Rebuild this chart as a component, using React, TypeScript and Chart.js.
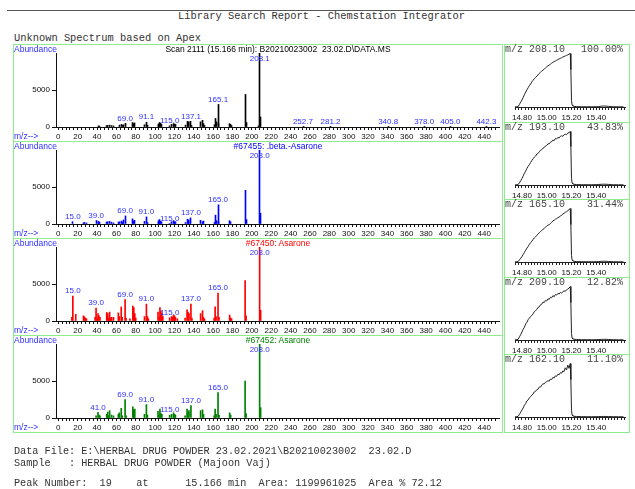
import React, { useEffect, useRef } from "react";
import { Chart, registerables } from "chart.js";
Chart.register(...registerables);

// ---------------- DATA ----------------
const mzTickLabels = [0, 20, 40, 60, 80, 100, 120, 140, 160, 180, 200, 220, 240, 260, 280, 300, 320, 340, 360, 380, 400, 420, 440];

// Unknown spectrum (scan 2111)
const unknownMz = [41, 43, 50, 51, 53, 55, 57, 63, 65, 66, 67, 69, 77, 78, 79, 89, 91, 92, 103, 104, 105, 106, 107, 115, 117, 119, 120, 121, 131, 133, 134, 135, 137, 138, 147, 149, 150, 151, 161, 162, 163, 165, 166, 177, 178, 179, 193, 194, 207, 208, 209, 253, 281, 341, 378, 405, 442];
const unknownAb = [150, 120, 180, 220, 250, 200, 150, 250, 350, 200, 300, 500, 600, 450, 550, 300, 640, 250, 400, 250, 600, 500, 350, 150, 350, 450, 400, 350, 250, 750, 550, 700, 770, 200, 700, 900, 450, 200, 300, 1150, 700, 3050, 450, 450, 350, 200, 4400, 600, 150, 9999, 1350, 40, 40, 40, 40, 40, 40];
const unknownPeakLabels = [69.0, 91.1, 115.0, 137.1, 165.1, 208.1, 252.7, 281.2, 340.8, 378.0, 405.0, 442.3];

// #67455 .beta.-Asarone
const betaMz = [15, 26, 27, 29, 39, 41, 42, 43, 50, 51, 53, 55, 57, 62, 63, 65, 66, 67, 69, 77, 78, 79, 89, 91, 92, 103, 104, 105, 106, 107, 115, 117, 119, 120, 121, 131, 133, 134, 135, 137, 147, 149, 150, 161, 162, 163, 165, 166, 177, 178, 193, 194, 208, 209];
const betaAb = [310, 150, 200, 150, 480, 350, 200, 250, 250, 300, 350, 250, 150, 250, 300, 400, 200, 550, 1090, 700, 400, 500, 350, 955, 200, 450, 200, 600, 350, 300, 70, 300, 450, 300, 300, 200, 650, 400, 550, 820, 500, 300, 400, 200, 1200, 450, 2590, 300, 450, 300, 4550, 600, 9999, 1450];
const betaPeakLabels = [15.0, 39.0, 69.0, 91.0, 115.0, 137.0, 165.0, 208.0];

// #67450 Asarone
const asaroneAMz = [14, 15, 18, 26, 27, 28, 29, 38, 39, 40, 41, 42, 43, 50, 51, 52, 53, 54, 55, 57, 62, 63, 65, 66, 69, 70, 74, 77, 78, 79, 80, 89, 91, 92, 93, 103, 104, 105, 106, 107, 108, 115, 117, 118, 119, 120, 121, 123, 131, 133, 134, 135, 137, 138, 147, 149, 150, 151, 161, 162, 163, 165, 166, 177, 178, 179, 193, 194, 208, 209];
const asaroneAAb = [500, 3370, 900, 700, 550, 400, 300, 500, 1730, 300, 1000, 700, 500, 1150, 1000, 400, 1200, 400, 500, 500, 1100, 600, 1900, 500, 2890, 400, 300, 2000, 1800, 1000, 400, 600, 2280, 600, 300, 1200, 500, 1800, 1300, 1000, 600, 440, 600, 500, 800, 700, 500, 300, 400, 1500, 1200, 1000, 2280, 400, 1000, 1400, 500, 300, 400, 1900, 600, 3780, 500, 800, 400, 300, 5450, 700, 9999, 1450];
const asaroneAPeakLabels = [15.0, 39.0, 69.0, 91.0, 115.0, 137.0, 165.0, 208.0];

// #67452 Asarone
const asaroneBMz = [39, 41, 42, 43, 50, 51, 52, 53, 55, 57, 62, 63, 65, 66, 69, 70, 77, 78, 79, 89, 91, 92, 103, 104, 105, 106, 107, 115, 117, 119, 120, 121, 131, 133, 134, 135, 137, 147, 149, 150, 161, 162, 163, 165, 166, 177, 178, 193, 194, 208, 209];
const asaroneBAb = [300, 750, 400, 300, 500, 800, 300, 1000, 400, 300, 500, 700, 1300, 300, 2500, 300, 1500, 1100, 1200, 500, 1810, 400, 900, 400, 1200, 600, 500, 380, 500, 700, 500, 400, 300, 1200, 800, 1000, 1680, 1000, 1100, 500, 300, 1200, 500, 3450, 400, 700, 400, 5000, 600, 9999, 1400];
const asaroneBPeakLabels = [41.0, 69.0, 91.0, 115.0, 137.0, 165.0, 208.0];

// Extracted ion chromatograms
const chromTickLabels = [14.8, 15.0, 15.2, 15.4];
const chromTimes = [14.74, 14.76, 14.77, 14.78, 14.79, 14.80, 14.81, 14.82, 14.83, 14.84, 14.85, 14.86, 14.87, 14.88, 14.89, 14.90, 14.91, 14.92, 14.93, 14.94, 14.95, 14.96, 14.97, 14.98, 14.99, 15.00, 15.01, 15.02, 15.03, 15.04, 15.05, 15.06, 15.07, 15.08, 15.09, 15.10, 15.11, 15.12, 15.13, 15.14, 15.15, 15.16, 15.17, 15.18, 15.19, 15.195, 15.20, 15.205, 15.21, 15.22, 15.24, 15.26, 15.28, 15.30, 15.32, 15.34, 15.36, 15.38, 15.40, 15.42, 15.44, 15.46, 15.48, 15.50, 15.52, 15.54, 15.56, 15.58, 15.60, 15.62];
const ion208 = [0.3, 0.3, 1, 5, 9, 13, 18, 23, 28, 32, 36, 40, 43, 47, 50, 53, 55, 58, 60, 63, 65, 67, 69, 71, 73, 75, 77, 78.5, 80, 82, 83.5, 85, 86, 87.5, 88.5, 90, 91, 92, 93.5, 94.5, 95.5, 96.5, 97.5, 99, 100, 70, 12, 4, 2, 1.2, 0.8, 0.6, 0.5, 0.5, 0.4, 0.5, 0.4, 0.5, 0.6, 0.8, 1.5, 1.8, 1.6, 1.2, 0.7, 0.5, 0.4, 0.4, 0.3, 0.3];
const ion193 = [0.3, 0.4, 1, 4, 8, 12, 17, 22, 26, 31, 35, 38, 42, 46, 49, 52, 54, 58, 59, 62, 65, 66, 69, 70, 73, 74, 77, 77, 80, 81, 84, 83, 87, 86, 89, 88, 91, 92, 91, 94, 95, 94, 97, 98, 100, 72, 12, 4, 2, 1.2, 0.9, 0.7, 0.6, 0.5, 0.6, 0.5, 0.5, 0.6, 0.7, 1.0, 1.3, 1.5, 1.4, 1.1, 0.7, 0.5, 0.5, 0.4, 0.4, 0.3];
const ion165 = [0.3, 0.3, 1, 4, 7, 10, 14, 18, 22, 26, 29, 33, 36, 39, 42, 45, 47, 50, 52, 55, 57, 59, 61, 63, 65, 67, 69, 70, 72, 74, 77, 78, 80, 81, 83, 84, 86, 87, 90, 91, 93, 94, 96, 98, 100, 70, 12, 4, 2, 1.2, 0.8, 0.7, 0.6, 0.5, 0.5, 0.5, 0.5, 0.5, 0.6, 0.8, 1.2, 1.4, 1.3, 1.0, 0.7, 0.5, 0.4, 0.4, 0.3, 0.3];
const ion209 = [0.4, 0.5, 1.5, 6, 10, 15, 20, 24, 30, 33, 38, 41, 44, 46, 49, 53, 55, 57, 61, 62, 66, 67, 71, 70, 74, 73, 77, 76, 80, 79, 83, 81, 85, 84, 87, 86, 89, 88, 90, 92, 91, 94, 95, 97, 100, 70, 12, 4, 2, 1.3, 1.0, 0.8, 0.6, 0.6, 0.5, 0.6, 0.5, 0.6, 0.7, 0.9, 1.1, 1.3, 1.2, 1.0, 0.7, 0.6, 0.5, 0.4, 0.4, 0.4];
const ion162 = [0.4, 0.5, 1.5, 5, 9, 13, 17, 22, 25, 30, 32, 36, 38, 41, 43, 47, 48, 51, 52, 56, 56, 60, 62, 62, 65, 66, 68, 67, 71, 70, 74, 73, 77, 76, 80, 79, 83, 82, 86, 85, 92, 88, 97, 91, 100, 70, 12, 4, 2, 1.3, 1.0, 0.8, 0.7, 0.6, 0.6, 0.6, 0.5, 0.6, 0.7, 0.8, 0.9, 1.0, 1.0, 0.9, 0.7, 0.6, 0.5, 0.5, 0.4, 0.4];
const chromIonNames = ["m/z 208.10", "m/z 193.10", "m/z 165.10", "m/z 209.10", "m/z 162.10"];
const chromPercents = ["100.00%", "43.83%", "31.44%", "12.82%", "11.10%"];
const chromSeries = [ion208, ion193, ion165, ion209, ion162];

// ---------------- STYLE ----------------
const SANS = '"Liberation Sans", Arial, Helvetica, sans-serif';
const MONO = '"Liberation Mono", "Courier New", monospace';
const BLUE = "#3030ff";
const GREEN_BORDER = "#8fec8f";
const TEXT_GRAY = "#333";

Chart.defaults.font.family = SANS;

function labelPlugin(labels: number[], mz: number[], ab: number[]) {
  return {
    id: "peakLabels",
    afterDatasetsDraw(chart: any) {
      const { ctx, chartArea } = chart;
      const x = chart.scales.x;
      const y = chart.scales.y;
      ctx.save();
      ctx.font = `8px ${SANS}`;
      ctx.fillStyle = BLUE;
      ctx.textAlign = "center";
      ctx.textBaseline = "middle";
      labels.forEach((l) => {
        let v = 0;
        mz.forEach((m, i) => {
          if (Math.round(m) === Math.round(l)) v = Math.max(v, ab[i]);
        });
        const px = x.getPixelForValue(l);
        let py = y.getPixelForValue(v) - 5;
        py = Math.max(py, chartArea.top + 5.5);
        py = Math.min(py, chartArea.bottom - 5);
        ctx.fillText(l.toFixed(1), px, py);
      });
      ctx.restore();
    },
  };
}

// snaps each 1px stick onto a whole pixel column so it draws crisp
const snapPlugin = {
  id: "snapSticks",
  beforeDatasetsDraw(chart: any) {
    chart.getDatasetMeta(0).data.forEach((el: any) => {
      el.x = Math.floor(el.x) + 0.5;
    });
  },
};

function SpectrumChart(props: { mz: number[]; ab: number[]; labels: number[]; color: string; top: number; crisp: boolean }) {
  const ref = useRef<HTMLCanvasElement>(null);
  useEffect(() => {
    const { mz, ab, labels, color, crisp } = props;
    const plugins: any[] = [labelPlugin(labels, mz, ab)];
    if (crisp) plugins.push(snapPlugin);
    const chart = new Chart(ref.current as HTMLCanvasElement, {
      type: "bar",
      data: {
        datasets: [
          {
            data: mz.map((m, i) => ({ x: m, y: ab[i] })),
            backgroundColor: color,
            borderWidth: 0,
            barThickness: 1,
            grouped: false,
          } as any,
        ],
      },
      options: {
        responsive: false,
        animation: false,
        events: [],
        layout: { padding: { top: 9, right: 3, left: 0, bottom: 0 } },
        plugins: { legend: { display: false }, tooltip: { enabled: false } },
        scales: {
          x: {
            type: "linear",
            min: -2.4,
            max: 455.3,
            offset: false,
            afterBuildTicks: (s: any) => {
              const t = [];
              for (let v = 0; v <= 452; v += 4) t.push({ value: v });
              s.ticks = t;
            },
            ticks: {
              autoSkip: false,
              maxRotation: 0,
              padding: 2,
              color: "#111",
              font: { size: 8 },
              callback: (v: any) => (mzTickLabels.includes(Number(v)) ? String(v) : ""),
            },
            grid: { drawOnChartArea: false, tickLength: 3, color: "#111", offset: false },
            border: { display: true, color: "#111" },
            afterFit: (s: any) => {
              s.height = 14;
            },
          } as any,
          y: {
            min: 0,
            max: 10000,
            afterBuildTicks: (s: any) => {
              s.ticks = [{ value: 0 }, { value: 5000 }];
            },
            ticks: { padding: 2, color: "#111", font: { size: 8 }, callback: (v: any) => String(v) },
            grid: { drawOnChartArea: false, tickLength: 4, color: "#111" },
            border: { display: true, color: "#111" },
            afterFit: (s: any) => {
              s.width = 43;
            },
          } as any,
        },
      },
      plugins,
    });
    return () => chart.destroy();
  }, []);
  return (
    <canvas
      ref={ref}
      width={489}
      height={97}
      style={{ position: "absolute", left: 13, top: props.top, display: "block" }}
    />
  );
}

function ChromChart(props: { values: number[]; top: number }) {
  const ref = useRef<HTMLCanvasElement>(null);
  useEffect(() => {
    const chart = new Chart(ref.current as HTMLCanvasElement, {
      type: "line",
      data: {
        datasets: [
          {
            data: chromTimes.map((t, i) => ({ x: t, y: props.values[i] })),
            borderColor: "#222",
            borderWidth: 1,
            pointRadius: 0,
            tension: 0,
          },
        ],
      },
      options: {
        responsive: false,
        animation: false,
        events: [],
        layout: { padding: { top: 9, left: 11, right: 4, bottom: 0 } },
        plugins: { legend: { display: false }, tooltip: { enabled: false } },
        scales: {
          x: {
            type: "linear",
            min: 14.744,
            max: 15.632,
            afterBuildTicks: (s: any) => {
              const t = [];
              for (let k = 590; k <= 625; k++) t.push({ value: Math.round(k * 25) / 1000 });
              s.ticks = t;
            },
            ticks: {
              autoSkip: false,
              maxRotation: 0,
              padding: 3,
              color: "#111",
              font: { size: 8 },
              callback: (v: any) => {
                const n = Number(v);
                const hit = chromTickLabels.find((c) => Math.abs(c - n) < 1e-6);
                return hit !== undefined ? hit.toFixed(2) : "";
              },
            },
            grid: { drawOnChartArea: false, tickLength: 3, color: "#222" },
            border: { display: true, color: "#222" },
            afterFit: (s: any) => {
              s.height = 15;
            },
          } as any,
          y: { display: false, min: 0, max: 101 },
        },
      },
    });
    return () => chart.destroy();
  }, []);
  return (
    <canvas
      ref={ref}
      width={125}
      height={78}
      style={{ position: "absolute", left: 504, top: props.top, display: "block" }}
    />
  );
}

function Txt(props: {
  x: number;
  y: number;
  size: number;
  font: string;
  color: string;
  align?: "left" | "center" | "right";
  children: any;
}) {
  const h = 14;
  const st: any = {
    position: "absolute",
    top: props.y - h / 2,
    height: h,
    lineHeight: h + "px",
    fontSize: props.size,
    fontFamily: props.font,
    color: props.color,
    whiteSpace: "pre",
  };
  if (props.align === "center") {
    st.left = props.x;
    st.transform = "translateX(-50%)";
  } else if (props.align === "right") {
    st.right = 635 - props.x;
  } else {
    st.left = props.x;
  }
  return <div style={st}>{props.children}</div>;
}

const panelTops = [44, 141, 238, 335];

export default function App() {
  const spectra = [
    { mz: unknownMz, ab: unknownAb, labels: unknownPeakLabels, color: "#000000", crisp: true, header: "Scan 2111 (15.166 min): B20210023002  23.02.D\\DATA.MS", hColor: "#000" },
    { mz: betaMz, ab: betaAb, labels: betaPeakLabels, color: "#0000ff", crisp: true, header: "#67455: .beta.-Asarone", hColor: "#0000ff" },
    { mz: asaroneAMz, ab: asaroneAAb, labels: asaroneAPeakLabels, color: "#ff0000", crisp: false, header: "#67450: Asarone", hColor: "#ff0000" },
    { mz: asaroneBMz, ab: asaroneBAb, labels: asaroneBPeakLabels, color: "#008000", crisp: false, header: "#67452: Asarone", hColor: "#008000" },
  ];
  return (
    <div style={{ position: "absolute", left: 0, top: 0, width: 635, height: 489, background: "#fff", overflow: "hidden" }}>
      <div style={{ position: "absolute", left: 7, top: 10, width: 628, height: 1, background: "#555" }} />
      <Txt x={321.5} y={16} size={10.4} font={MONO} color={TEXT_GRAY} align="center">
        Library Search Report - Chemstation Integrator
      </Txt>
      <Txt x={14} y={38} size={10.4} font={MONO} color={TEXT_GRAY}>
        Unknown Spectrum based on Apex
      </Txt>

      {/* left panel frame */}
      <div style={{ position: "absolute", left: 13, top: 44, width: 490, height: 389, boxSizing: "border-box", border: `1px solid ${GREEN_BORDER}` }} />
      {[141, 238, 335].map((y) => (
        <div key={y} style={{ position: "absolute", left: 13, top: y, width: 490, height: 1, background: GREEN_BORDER }} />
      ))}

      {spectra.map((s, i) => (
        <React.Fragment key={i}>
          <SpectrumChart mz={s.mz} ab={s.ab} labels={s.labels} color={s.color} crisp={s.crisp} top={panelTops[i]} />
          <Txt x={14} y={panelTops[i] + 5} size={8.5} font={SANS} color={BLUE}>
            Abundance
          </Txt>
          <Txt x={14} y={panelTops[i] + 92} size={8.5} font={SANS} color={BLUE}>
            {"m/z-->"}
          </Txt>
          <Txt x={278} y={panelTops[i] + 5} size={8.5} font={SANS} color={s.hColor} align="center">
            {s.header}
          </Txt>
        </React.Fragment>
      ))}

      {chromSeries.map((vals, i) => {
        const top = Math.round(44 + i * 77.6);
        const bottom = Math.round(44 + (i + 1) * 77.6);
        return (
          <React.Fragment key={i}>
            <div style={{ position: "absolute", left: 504, top, width: 126, height: bottom - top + 1, boxSizing: "border-box", border: `1px solid ${GREEN_BORDER}` }} />
            <ChromChart values={vals} top={top} />
            <Txt x={505} y={top + 5.5} size={10} font={MONO} color="#444">
              {chromIonNames[i]}
            </Txt>
            <Txt x={623} y={top + 5.5} size={10} font={MONO} color="#444" align="right">
              {chromPercents[i]}
            </Txt>
          </React.Fragment>
        );
      })}

      <Txt x={14} y={452} size={10.2} font={MONO} color={TEXT_GRAY}>
        {"Data File: E:\\HERBAL DRUG POWDER 23.02.2021\\B20210023002  23.02.D"}
      </Txt>
      <Txt x={14} y={464} size={10.2} font={MONO} color={TEXT_GRAY}>
        {"Sample   : HERBAL DRUG POWDER (Majoon Vaj)"}
      </Txt>
      <Txt x={14} y={484} size={10.2} font={MONO} color={TEXT_GRAY}>
        {"Peak Number:  19    at      15.166 min  Area: 1199961025  Area % 72.12"}
      </Txt>
    </div>
  );
}
